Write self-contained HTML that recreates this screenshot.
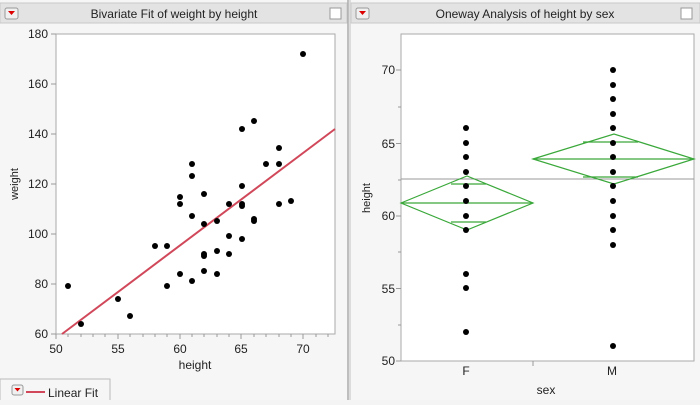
<!DOCTYPE html>
<html><head><style>
body{margin:0;width:700px;height:400px;background:#f4f4f4;font-family:"Liberation Sans",sans-serif;overflow:hidden}
</style></head><body>
<svg width="700" height="400" xmlns="http://www.w3.org/2000/svg" font-family="Liberation Sans, sans-serif" font-size="12">
<rect width="700" height="400" fill="#f6f6f6"/>
<rect x="347" y="0" width="4" height="400" fill="#dcdcdc"/>
<line x1="348" y1="0" x2="348" y2="400" stroke="#a0a0a0"/>
<!-- headers -->
<rect x="0" y="3" width="347" height="20" fill="#e3e3e3" stroke="#c8c8c8"/>
<rect x="351" y="3" width="349" height="20" fill="#e3e3e3" stroke="#c8c8c8"/>
<rect x="5" y="8" width="13" height="11" rx="2" fill="#f0f0f0" stroke="#999"/><path d="M8 11h7l-3.5 4z" fill="#d00"/>
<rect x="356" y="8" width="13" height="11" rx="2" fill="#f0f0f0" stroke="#999"/><path d="M359 11h7l-3.5 4z" fill="#d00"/>
<rect x="330" y="8" width="11" height="11" fill="#fff" stroke="#999"/>
<rect x="681" y="8" width="11" height="11" fill="#fff" stroke="#999"/>
<text x="174" y="18" text-anchor="middle" fill="#222">Bivariate Fit of weight by height</text>
<text x="525" y="18" text-anchor="middle" fill="#222">Oneway Analysis of height by sex</text>
<!-- left plot -->
<rect x="56" y="34" width="279" height="300" fill="#fff" stroke="#aaa"/>
<g fill="#222" text-anchor="end">
<text x="48" y="38">180</text><text x="48" y="88">160</text><text x="48" y="138">140</text><text x="48" y="188">120</text><text x="48" y="238">100</text><text x="48" y="288">80</text><text x="48" y="338">60</text>
</g>
<g stroke="#999"><path d="M51 34h5M51 84h5M51 134h5M51 184h5M51 234h5M51 284h5M51 334h5M56 334v5M118 334v5M180 334v5M241 334v5M303 334v5M68 334v3M93 334v3M130 334v3M155 334v3M167 334v3M192 334v3M217 334v3M229 334v3M254 334v3M266 334v3M291 334v3M316 334v3M328 334v3M81 334v3M105 334v3M143 334v3M204 334v3M279 334v3"/></g>
<g fill="#222" text-anchor="middle">
<text x="56" y="353">50</text><text x="118" y="353">55</text><text x="180" y="353">60</text><text x="241" y="353">65</text><text x="303" y="353">70</text>
<text x="195" y="369">height</text>
</g>
<text transform="translate(18,184) rotate(-90)" text-anchor="middle" fill="#222" font-size="11">weight</text>
<line x1="62" y1="334" x2="335" y2="129" stroke="#d0485a" stroke-width="2"/>
<g fill="#000">
<circle cx="303" cy="54" r="3"/><circle cx="254" cy="121" r="3"/><circle cx="242" cy="129" r="3"/><circle cx="279" cy="148" r="3"/>
<circle cx="266" cy="164" r="3"/><circle cx="279" cy="164" r="3"/><circle cx="192" cy="164" r="3"/><circle cx="192" cy="176" r="3"/>
<circle cx="242" cy="186" r="3"/><circle cx="204" cy="194" r="3"/><circle cx="180" cy="197" r="3"/><circle cx="291" cy="201" r="3"/>
<circle cx="229" cy="204" r="3"/><circle cx="242" cy="204" r="3"/><circle cx="242" cy="206" r="3"/><circle cx="279" cy="204" r="3"/><circle cx="180" cy="204" r="3"/>
<circle cx="192" cy="216" r="3"/><circle cx="204" cy="224" r="3"/><circle cx="217" cy="221" r="3"/><circle cx="254" cy="219" r="3"/><circle cx="254" cy="221" r="3"/>
<circle cx="155" cy="246" r="3"/><circle cx="167" cy="246" r="3"/><circle cx="229" cy="236" r="3"/><circle cx="242" cy="239" r="3"/>
<circle cx="204" cy="254" r="3"/><circle cx="204" cy="256" r="3"/><circle cx="217" cy="251" r="3"/><circle cx="229" cy="254" r="3"/>
<circle cx="180" cy="274" r="3"/><circle cx="192" cy="281" r="3"/><circle cx="204" cy="271" r="3"/><circle cx="217" cy="274" r="3"/>
<circle cx="167" cy="286" r="3"/><circle cx="68" cy="286" r="3"/><circle cx="118" cy="299" r="3"/><circle cx="130" cy="316" r="3"/><circle cx="81" cy="324" r="3"/>
</g>
<!-- legend -->
<rect x="0" y="379" width="110" height="24" fill="#f6f6f6" stroke="#bbb"/>
<rect x="12" y="385" width="11" height="10" rx="2" fill="#f0f0f0" stroke="#999"/><path d="M14.5 388h6l-3 3.5z" fill="#d00"/>
<line x1="26" y1="392" x2="45" y2="392" stroke="#d0485a" stroke-width="2"/>
<text x="48" y="397" fill="#222">Linear Fit</text>
<!-- right plot -->
<rect x="401" y="34" width="293" height="327" fill="#fff" stroke="#aaa"/>
<g fill="#222" text-anchor="end">
<text x="395" y="74">70</text><text x="395" y="148">65</text><text x="395" y="220">60</text><text x="395" y="293">55</text><text x="395" y="365">50</text>
</g>
<g stroke="#999"><path d="M396 70h5M396 143.5h5M396 216h5M396 288.5h5M396 361h5M398 107h3M398 180h3M398 252h3M398 325h3M533 361v5"/></g>
<g fill="#222" text-anchor="middle">
<text x="466" y="375">F</text><text x="612" y="375">M</text><text x="546" y="394">sex</text>
</g>
<text transform="translate(370,198) rotate(-90)" text-anchor="middle" fill="#222" font-size="11">height</text>
<line x1="401" y1="179" x2="694" y2="179" stroke="#999"/>
<g fill="none" stroke="#3aa83a" stroke-width="1.2">
<path d="M401 203L467 176L533 203L467 230Z"/><path d="M401 203H533M451 184H486M451 222H486"/>
<path d="M533 159L614 134L694 159L614 184Z"/><path d="M533 159H694M583 142H638M583 177H638"/>
</g>
<g fill="#000">
<circle cx="466" cy="128" r="3"/><circle cx="466" cy="143" r="3"/><circle cx="466" cy="157" r="3"/><circle cx="466" cy="172" r="3"/><circle cx="466" cy="186" r="3"/><circle cx="466" cy="201" r="3"/><circle cx="466" cy="216" r="3"/><circle cx="466" cy="230" r="3"/><circle cx="466" cy="274" r="3"/><circle cx="466" cy="288" r="3"/><circle cx="466" cy="332" r="3"/>
<circle cx="613" cy="70" r="3"/><circle cx="613" cy="85" r="3"/><circle cx="613" cy="99" r="3"/><circle cx="613" cy="114" r="3"/><circle cx="613" cy="128" r="3"/><circle cx="613" cy="143" r="3"/><circle cx="613" cy="157" r="3"/><circle cx="613" cy="172" r="3"/><circle cx="613" cy="186" r="3"/><circle cx="613" cy="201" r="3"/><circle cx="613" cy="216" r="3"/><circle cx="613" cy="230" r="3"/><circle cx="613" cy="245" r="3"/><circle cx="613" cy="346" r="3"/>
</g>
</svg>
</body></html>
